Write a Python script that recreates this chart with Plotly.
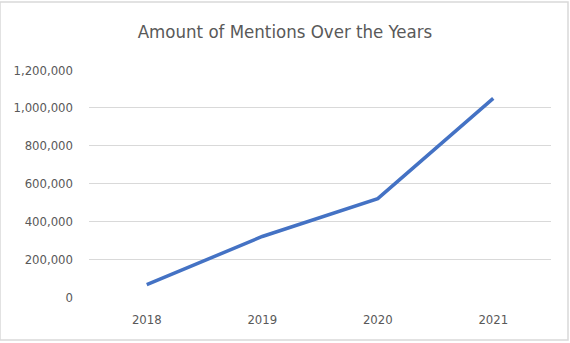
import plotly.graph_objects as go

years = ["2018", "2019", "2020", "2021"]
mentions = [65000, 320000, 520000, 1050000]
y_ticks = [0, 200000, 400000, 600000, 800000, 1000000, 1200000]
y_tick_labels = ["0", "200,000", "400,000", "600,000", "800,000", "1,000,000", "1,200,000"]

FONT = "DejaVu Sans Condensed"
fig = go.Figure()
fig.add_trace(go.Scatter(x=years, y=mentions, mode="lines",
                         line=dict(color="#4472C4", width=3.5)))
fig.update_layout(
    width=570, height=343,
    margin=dict(l=89, r=19, t=70, b=46),
    paper_bgcolor="white", plot_bgcolor="white",
    showlegend=False,
    title=dict(text="Amount of Mentions Over the Years", x=0.5, xanchor="center",
               y=1 - 32 / 343, yanchor="middle",
               font=dict(family=FONT, size=18.5, color="#595959")),
    font=dict(family=FONT, size=13, color="#595959"),
    xaxis=dict(type="category", showgrid=False, zeroline=False, showline=False,
               ticks="", ticklabelstandoff=13, range=[-0.5, 3.5]),
    yaxis=dict(range=[0, 1200000], tickvals=y_ticks, ticktext=y_tick_labels,
               showgrid=True, gridcolor="#D9D9D9", gridwidth=1, zeroline=False,
               showline=False, ticks="", ticklabelstandoff=15),
    shapes=[dict(type="rect", xref="paper", yref="paper",
                 x0=-89/462, x1=1 + 17/462, y0=-43/227, y1=1 + 68/227,
                 line=dict(color="#D9D9D9", width=1.5), layer="below")],
)
fig.write_html("out.html")
